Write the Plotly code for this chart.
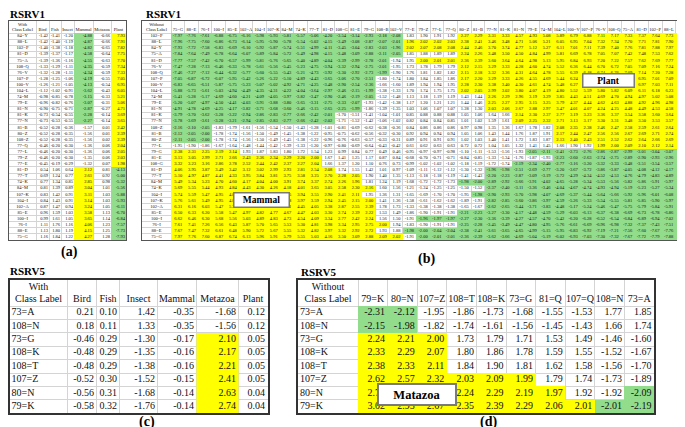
import numpy as np
import plotly.graph_objects as go

# ---------------- data ----------------
a_rows = ["84=Y", "88=L", "102=P", "81=D", "75=A", "108=Q", "76=V", "107=P", "100=V", "104=L",
          "74=M", "79=E", "81=N", "81=K", "77=N", "81=B", "80=Z", "108=Z", "77=Q", "77=L",
          "79=Z", "77=E", "81=D", "77=T", "74=K", "84=M", "107=K", "104=I", "102=A", "85=E",
          "100=I", "76=I", "88=E", "75=G"]
a_cols = ["Bird", "Fish", "Insect", "Mammal", "Metazoa", "Plant"]
a_bird = [-1.42, -1.42, -1.40, -1.39, -1.39, -1.33, -1.32, -1.28, -1.26, -1.12, -0.98, -0.96, -0.90,
          -0.73, -0.73, -0.52, -0.52, -0.52, -0.46, -0.46, -0.46, -0.45, 0.54, 0.69, 0.77, 0.81,
          0.83, 0.84, 0.87, 0.96, 0.99, 1.11, 1.13, 1.16]
a_fish = [-1.41, -1.40, -1.38, -1.37, -1.36, -1.29, -1.28, -1.25, -1.21, -1.02, -0.85, -0.82, -0.75,
          -0.54, -0.53, -0.28, -0.28, -0.28, -0.20, -0.20, -0.20, -0.19, 1.06, 1.24, 1.34, 1.39,
          1.42, 1.43, 1.47, 1.59, 1.61, 1.76, 1.80, 1.84]
a_insect = [-1.20, -1.19, -1.18, -1.17, -1.16, -1.11, -1.11, -1.06, -1.05, -0.91, -0.78, -0.76, -0.71,
            -0.55, -0.55, -0.36, -0.35, -0.35, -0.30, -0.30, -0.30, -0.29, 0.64, 0.77, 0.85, 0.89,
            0.91, 0.91, 0.94, 1.03, 1.05, 1.16, 1.19, 1.22]
a_mammal = [-4.88, -4.87, -4.82, -4.58, -4.55, -4.35, -4.34, -4.19, -4.13, -3.62, -3.15, -3.07, -2.87,
            -2.28, -2.27, -1.57, -1.56, -1.56, -1.36, -1.36, -1.35, -1.32, 2.12, 2.61, 2.85, 3.04,
            3.11, 3.14, 3.24, 3.58, 3.65, 4.06, 4.15, 4.27]
a_metazoa = [-0.66, -0.66, -0.65, -0.64, -0.63, -0.59, -0.59, -0.55, -0.54, -0.43, -0.33, -0.31, -0.27,
             -0.14, -0.14, 0.01, 0.01, 0.02, 0.06, 0.06, 0.06, 0.07, 0.81, 0.92, 0.98, 1.01,
             1.03, 1.03, 1.05, 1.13, 1.14, 1.23, 1.25, 1.28]
a_plant = [7.93, 7.91, 7.82, 7.75, 7.70, 7.34, 7.33, 7.05, 6.95, 6.05, 5.21, 5.06, 4.71,
           3.69, 3.65, 2.42, 2.39, 2.39, 2.04, 2.05, 2.03, 1.98, -4.13, -5.00, -5.32, -5.56,
           -5.88, -5.93, -6.11, -6.70, -6.84, -7.57, -7.73, -7.93]

b_rows = ["102=P", "88=L", "84=Y", "75=A", "81=D", "76=V", "108=Q", "107=P", "100=V", "104=L",
          "74=M", "79=E", "81=N", "81=K", "77=N", "108=Z", "81=B", "80=Z", "77=L", "79=G",
          "81=E", "108=G", "81=D", "77=T", "84=M", "74=K", "104=I", "107=K", "102=A", "85=E",
          "100=I", "76=I", "88=E", "75=G"]
b_cols = ["75=G", "88=E", "76=I", "100=I", "85=E", "102=A", "104=I", "107=K", "84=M", "74=K",
          "77=T", "81=D", "108=G", "81=E", "79=G", "108=B", "102=V", "77=E", "79=Z", "77=L",
          "77=Q", "80=Z", "81=B", "77=N", "81=K", "81=N", "79=E", "74=M", "104=L", "100=V",
          "107=P", "76=V", "108=Q", "75=A", "81=D", "102=P", "88=L", "84=Y"]
b_values = [
    [-7.97, -7.76, -7.61, -6.88, -6.75, -6.16, -5.98, -5.93, -5.81, -5.57, -5.06, -4.20, -3.54, -3.14, -2.93, -2.18, -2.08, 1.83,
     1.90, 1.91, 1.92, 2.27, 2.29, 3.31, 3.33, 4.57, 4.93, 5.08, 5.89, 6.79, 6.88, 7.11, 7.17, 7.33, 7.37, 7.64, 7.73, 7.75],
    [-7.96, -7.75, -7.60, -6.86, -6.73, -6.14, -5.95, -5.90, -5.78, -5.54, -5.02, -4.15, -3.49, -3.08, -2.87, -2.07, -2.01, 1.96,
     2.02, 2.02, 2.03, 2.38, 2.41, 3.46, 3.48, 4.71, 5.06, 5.21, 6.05, 6.95, 7.04, 7.32, 7.34, 7.70, 7.71, 7.81, 7.90, 7.92],
    [-7.93, -7.72, -7.58, -6.83, -6.69, -6.10, -5.92, -5.87, -5.74, -5.51, -4.99, -4.11, -3.45, -3.04, -2.83, -2.03, -1.96, 2.02,
     2.07, 2.08, 2.08, 2.44, 2.46, 3.70, 3.74, 4.77, 5.12, 5.27, 6.11, 7.01, 7.11, 7.39, 7.40, 7.76, 7.81, 7.88, 7.97, 7.99],
    [-7.84, -7.64, -7.49, -6.78, -6.64, -6.07, -5.89, -5.84, -5.72, -5.49, -4.98, -4.15, -3.48, -3.09, -2.88, -2.11, -2.05, 1.85,
     1.88, 1.89, 1.89, 2.24, 2.26, 3.48, 3.50, 4.50, 4.84, 4.99, 5.81, 6.69, 6.78, 7.05, 7.07, 7.42, 7.48, 7.53, 7.62, 7.64],
    [-7.77, -7.57, -7.42, -6.70, -6.57, -5.99, -5.81, -5.76, -5.65, -5.40, -4.89, -4.04, -3.39, -2.99, -2.78, -2.01, -1.94, 1.95,
     2.00, 2.01, 2.01, 2.36, 2.39, 3.60, 3.64, 4.64, 4.98, 5.13, 5.95, 6.84, 6.93, 7.20, 7.22, 7.57, 7.62, 7.69, 7.77, 7.79],
    [-7.47, -7.28, -7.13, -6.46, -6.33, -5.78, -5.61, -5.56, -5.45, -5.23, -4.75, -3.94, -3.32, -2.94, -2.75, -2.01, -1.95, 1.73,
     1.78, 1.79, 1.79, 2.12, 2.15, 3.29, 3.33, 4.28, 4.60, 4.74, 5.52, 6.36, 6.44, 6.70, 6.72, 7.05, 7.09, 7.16, 7.24, 7.26],
    [-7.46, -7.27, -7.12, -6.44, -6.32, -5.77, -5.60, -5.55, -5.43, -5.21, -4.73, -3.92, -3.30, -2.92, -2.73, -1.99, -1.90, 1.76,
     1.81, 1.82, 1.82, 2.15, 2.18, 3.32, 3.36, 4.31, 4.64, 4.78, 5.55, 6.39, 6.48, 6.74, 6.76, 7.09, 7.14, 7.20, 7.28, 7.30],
    [-7.05, -6.87, -6.72, -6.07, -5.95, -5.42, -5.26, -5.22, -5.10, -4.89, -4.43, -3.65, -3.06, -2.70, -2.51, -1.80, -1.74, 1.80,
     1.84, 1.85, 1.86, 2.17, 2.20, 3.29, 3.33, 4.26, 4.55, 4.69, 5.44, 6.24, 6.32, 6.57, 6.59, 6.91, 6.95, 7.01, 7.09, 7.11],
    [-6.83, -6.65, -6.51, -5.87, -5.75, -5.23, -5.07, -5.02, -4.92, -4.71, -4.25, -3.48, -2.90, -2.54, -2.36, -1.66, -1.60, 1.89,
     1.94, 1.94, 1.95, 2.28, 2.30, 3.38, 3.40, 4.30, 4.61, 4.74, 5.48, 6.27, 6.35, 6.60, 6.62, 6.93, 6.97, 7.03, 7.11, 7.13],
    [-5.88, -5.73, -5.61, -5.03, -4.94, -4.49, -4.35, -4.31, -4.22, -4.04, -3.64, -2.97, -2.46, -2.15, -1.99, -1.38, -1.33, 1.70,
     1.74, 1.75, 1.75, 2.02, 2.05, 2.99, 3.02, 3.80, 4.07, 4.19, 4.80, 5.52, 5.59, 5.80, 5.82, 6.09, 6.11, 6.18, 6.23, 6.26],
    [-5.41, -5.28, -5.17, -4.69, -4.60, -4.21, -4.09, -4.05, -3.97, -3.82, -3.47, -2.90, -2.46, -2.19, -2.05, -1.52, -1.48, 1.13,
     1.18, 1.19, 1.19, 1.43, 1.44, 2.26, 2.29, 2.96, 3.19, 3.29, 3.85, 4.43, 4.51, 4.69, 4.70, 4.94, 4.97, 5.02, 5.08, 5.09],
    [-5.20, -5.07, -4.97, -4.50, -4.41, -4.03, -3.91, -3.88, -3.80, -3.65, -3.31, -2.75, -2.33, -2.07, -1.93, -1.42, -1.38, 1.17,
     1.20, 1.21, 1.21, 1.44, 1.46, 2.25, 2.27, 2.95, 3.15, 3.25, 3.79, 4.37, 4.44, 4.62, 4.63, 4.88, 4.92, 4.96, 4.98, 5.00],
    [-4.91, -4.78, -4.69, -4.25, -4.17, -3.82, -3.71, -3.68, -3.60, -3.46, -3.15, -2.65, -2.25, -1.99, -1.86, -1.39, -1.35, 1.03,
     1.06, 1.07, 1.07, 1.28, 1.30, 2.03, 2.06, 2.67, 2.88, 2.97, 3.47, 4.01, 4.07, 4.24, 4.25, 4.48, 4.49, 4.53, 4.58, 4.60],
    [-3.79, -3.70, -3.62, -3.28, -3.22, -2.94, -2.86, -2.83, -2.77, -2.66, -2.42, -2.01, -1.70, -1.51, -1.41, -1.04, -1.01, 0.85,
     0.88, 0.88, 0.88, 1.05, 1.06, 1.64, 1.66, 2.14, 2.30, 2.37, 2.77, 3.19, 3.23, 3.36, 3.37, 3.54, 3.58, 3.60, 3.64, 3.65],
    [-3.78, -3.69, -3.61, -3.28, -3.21, -2.94, -2.85, -2.83, -2.77, -2.66, -2.42, -2.02, -1.71, -1.52, -1.42, -1.06, -1.02, 0.82,
     0.84, 0.84, 0.85, 1.01, 1.02, 1.59, 1.61, 2.09, 2.25, 2.32, 2.71, 3.13, 3.17, 3.30, 3.31, 3.48, 3.50, 3.53, 3.57, 3.58],
    [-2.16, -2.10, -2.05, -1.83, -1.79, -1.61, -1.56, -1.54, -1.50, -1.43, -1.28, -1.01, -0.81, -0.69, -0.62, -0.38, -0.36, 0.84,
     0.86, 0.86, 0.86, 0.97, 0.98, 1.35, 1.36, 1.67, 1.78, 1.82, 2.08, 2.35, 2.38, 2.46, 2.47, 2.58, 2.59, 2.61, 2.64, 2.64],
    [-2.12, -2.05, -2.00, -1.78, -1.74, -1.56, -1.50, -1.49, -1.45, -1.38, -1.22, -0.95, -0.75, -0.62, -0.56, -0.32, -0.30, 0.92,
     0.94, 0.94, 0.94, 1.05, 1.06, 1.43, 1.44, 1.76, 1.87, 1.91, 2.17, 2.44, 2.47, 2.56, 2.56, 2.67, 2.69, 2.71, 2.74, 2.74],
    [-2.11, -2.05, -2.00, -1.78, -1.74, -1.56, -1.50, -1.49, -1.45, -1.38, -1.22, -0.96, -0.76, -0.63, -0.57, -0.33, -0.31, 0.89,
     0.91, 0.91, 0.91, 1.02, 1.03, 1.40, 1.41, 1.72, 1.83, 1.87, 2.13, 2.40, 2.43, 2.51, 2.52, 2.62, 2.64, 2.66, 2.69, 2.69],
    [-1.95, -1.90, -1.86, -1.67, -1.64, -1.48, -1.44, -1.42, -1.39, -1.33, -1.20, -0.97, -0.80, -0.69, -0.64, -0.43, -0.42, 0.61,
     0.62, 0.63, 0.63, 0.72, 0.72, 1.04, 1.05, 1.32, 1.41, 1.45, 1.66, 1.90, 1.92, 1.99, 2.00, 2.09, 2.10, 2.12, 2.14, 2.15],
    [2.38, 2.31, 2.25, 2.19, 2.14, 1.93, 1.87, 1.83, 1.80, 1.72, 1.54, 1.23, 0.99, 0.84, 0.77, 0.49, 0.46, -0.95,
     -0.97, -0.97, -0.98, -1.10, -1.11, -1.53, -1.56, -1.93, -2.05, -2.11, -2.41, -2.73, -2.76, -2.86, -2.87, -2.99, -3.01, -3.04, -3.07, -3.07],
    [3.13, 3.05, 2.99, 2.71, 2.66, 2.43, 2.36, 2.34, 2.29, 2.20, 2.00, 1.67, 1.41, 1.25, 1.17, 0.87, 0.84, -0.68,
     -0.70, -0.71, -0.71, -0.84, -0.85, -1.33, -1.34, -1.76, -1.87, -1.93, -2.23, -2.60, -2.63, -2.74, -2.75, -2.89, -2.90, -2.93, -2.96, -2.97],
    [3.32, 3.23, 3.16, 2.86, 2.78, 2.52, 2.44, 2.42, 2.37, 2.27, 2.04, 1.66, 1.37, 1.20, 1.10, 0.76, 0.73, -0.99,
     -1.02, -1.02, -1.02, -1.18, -1.19, -1.72, -1.74, -2.19, -2.34, -2.40, -2.77, -3.16, -3.20, -3.32, -3.33, -3.48, -3.51, -3.54, -3.57, -3.58],
    [4.06, 3.95, 3.87, 3.49, 3.42, 3.12, 3.02, 2.99, 2.93, 2.81, 2.54, 2.08, 1.74, 1.55, 1.42, 1.01, 0.97, -1.09,
     -1.11, -1.12, -1.12, -1.30, -1.32, -1.96, -1.98, -2.51, -2.69, -2.77, -3.20, -3.67, -3.72, -3.86, -3.87, -4.05, -4.08, -4.12, -4.17, -4.18],
    [5.10, 4.97, 4.87, 4.41, 4.33, 3.95, 3.84, 3.81, 3.75, 3.58, 3.25, 2.70, 2.28, 2.05, 1.90, 1.40, 1.35, -1.13,
     -1.18, -1.18, -1.19, -1.41, -1.43, -2.20, -2.23, -2.87, -3.09, -3.19, -3.72, -4.29, -4.34, -4.52, -4.53, -4.76, -4.79, -4.83, -4.89, -4.90],
    [5.49, 5.34, 5.23, 4.70, 4.60, 4.17, 4.04, 4.00, 3.91, 3.74, 3.37, 2.74, 2.26, 1.96, 1.81, 1.24, 1.19, -1.68,
     -1.72, -1.72, -1.73, -1.98, -2.00, -2.89, -2.92, -3.66, -3.91, -4.02, -4.65, -5.28, -5.34, -5.53, -5.56, -5.82, -5.86, -5.91, -5.97, -5.99],
    [5.69, 5.55, 5.44, 4.93, 4.84, 4.43, 4.30, 4.26, 4.18, 4.01, 3.65, 3.05, 2.58, 2.30, 2.16, 1.60, 1.56, -1.21,
     -1.24, -1.25, -1.25, -1.50, -1.52, -2.37, -2.40, -3.11, -3.36, -3.46, -4.04, -4.67, -4.74, -4.93, -4.94, -5.19, -5.23, -5.27, -5.34, -5.35],
    [5.74, 5.59, 5.47, 4.95, 4.85, 4.42, 4.28, 4.24, 4.15, 3.94, 3.55, 2.90, 2.41, 2.11, 1.95, 1.36, 1.31, -1.65,
     -1.69, -1.70, -1.70, -1.95, -1.98, -2.90, -2.93, -3.70, -3.98, -4.07, -4.69, -5.37, -5.44, -5.64, -5.66, -5.92, -5.96, -6.01, -6.08, -6.09],
    [5.76, 5.61, 5.49, 4.95, 4.87, 4.44, 4.31, 4.27, 4.18, 3.97, 3.59, 2.94, 2.45, 2.15, 2.00, 1.41, 1.36, -1.58,
     -1.61, -1.62, -1.62, -1.89, -1.91, -2.82, -2.85, -3.60, -3.86, -3.97, -4.59, -5.26, -5.33, -5.54, -5.55, -5.81, -5.85, -5.90, -5.97, -5.98],
    [6.31, 6.16, 6.03, 5.47, 5.36, 4.88, 4.74, 4.70, 4.61, 4.45, 4.05, 3.38, 2.87, 2.55, 2.39, 1.78, 1.73, -1.33,
     -1.38, -1.38, -1.38, -1.65, -1.67, -2.62, -2.65, -3.44, -3.71, -3.83, -4.48, -5.17, -5.24, -5.46, -5.47, -5.75, -5.79, -5.84, -5.91, -5.92],
    [6.50, 6.33, 6.20, 5.58, 5.47, 4.97, 4.82, 4.77, 4.67, 4.47, 4.03, 3.30, 2.74, 2.39, 2.22, 1.53, 1.49, -1.86,
     -1.90, -1.91, -1.91, -2.21, -2.23, -3.27, -3.30, -4.17, -4.48, -4.59, -5.29, -6.03, -6.13, -6.37, -6.38, -6.69, -6.73, -6.78, -6.86, -6.88],
    [6.62, 6.46, 6.30, 5.68, 5.56, 5.03, 4.89, 4.83, 4.73, 4.54, 4.09, 3.34, 2.77, 2.42, 2.24, 1.56, 1.50, -1.91,
     -1.96, -1.97, -1.97, -2.27, -2.30, -3.36, -3.39, -4.27, -4.57, -4.70, -5.42, -6.20, -6.28, -6.52, -6.54, -6.84, -6.89, -6.94, -7.02, -7.04],
    [7.61, 7.41, 7.26, 6.56, 6.43, 5.87, 5.70, 5.65, 5.53, 5.30, 4.81, 3.98, 3.34, 2.95, 2.75, 2.00, 1.94, -1.83,
     -1.90, -1.91, -1.91, -2.25, -2.28, -3.45, -3.49, -4.47, -4.80, -4.95, -5.76, -6.61, -6.69, -6.96, -6.98, -7.32, -7.37, -7.43, -7.51, -7.53],
    [7.67, 7.47, 7.32, 6.61, 6.48, 5.90, 5.72, 5.67, 5.55, 5.32, 4.82, 3.97, 3.32, 2.92, 2.72, 1.93, 1.88, -1.98,
     -2.00, -2.04, -2.04, -2.38, -2.41, -3.61, -3.65, -4.65, -4.99, -5.15, -5.95, -6.83, -6.92, -7.19, -7.21, -7.56, -7.60, -7.67, -7.76, -7.77],
    [7.97, 7.76, 7.60, 6.87, 6.74, 6.13, 5.96, 5.91, 5.79, 5.55, 5.03, 4.16, 3.50, 3.09, 2.88, 2.09, 2.02, -1.91,
     -2.00, -2.01, -2.01, -2.36, -2.39, -3.62, -3.66, -4.69, -5.04, -5.19, -6.02, -6.93, -7.03, -7.30, -7.32, -7.67, -7.72, -7.79, -7.88, -7.90],
]

c_rows = ["73=A", "108=N", "73=G", "108=K", "108=T", "107=Z", "80=N", "79=K"]
c_cols = ["Bird", "Fish", "Insect", "Mammal", "Metazoa", "Plant"]
c_bird = [0.21, 0.18, -0.46, -0.48, -0.48, -0.52, -0.56, -0.58]
c_fish = [0.10, 0.11, 0.29, 0.29, 0.29, 0.30, 0.31, 0.32]
c_insect = [1.42, 1.33, -1.30, -1.35, -1.38, -1.52, -1.68, -1.76]
c_mammal = [-0.35, -0.35, -0.17, -0.16, -0.16, -0.15, -0.14, -0.14]
c_metazoa = [-1.68, -1.56, 2.10, 2.17, 2.21, 2.41, 2.63, 2.74]
c_plant = [0.12, 0.12, 0.05, 0.05, 0.05, 0.05, 0.04, 0.04]

d_rows = ["73=A", "108=N", "73=G", "108=K", "108=T", "107=Z", "80=N", "79=K"]
d_cols = ["79=K", "80=N", "107=Z", "108=T", "108=K", "73=G", "81=Q", "107=Q", "108=N", "73=A"]
d_values = [
    [-2.31, -2.12, -1.95, -1.86, -1.73, -1.68, -1.55, -1.53, 1.77, 1.85],
    [-2.15, -1.98, -1.82, -1.74, -1.61, -1.56, -1.45, -1.43, 1.66, 1.74],
    [2.24, 2.21, 2.00, 1.73, 1.79, 1.71, 1.53, 1.49, -1.46, -1.60],
    [2.33, 2.29, 2.07, 1.80, 1.86, 1.78, 1.59, 1.55, -1.52, -1.67],
    [2.38, 2.33, 2.11, 1.84, 1.90, 1.81, 1.62, 1.58, -1.56, -1.70],
    [2.62, 2.57, 2.32, 2.03, 2.09, 1.99, 1.79, 1.74, -1.73, -1.89],
    [2.77, 2.71, 2.45, 2.24, 2.29, 2.19, 1.97, 1.92, -1.92, -2.09],
    [3.02, 2.95, 2.67, 2.35, 2.39, 2.29, 2.06, 2.01, -2.01, -2.19],
]

THRESH = 1.96

# ---------------- styling / layout ----------------
W, H = 685, 427
FONT = "Liberation Serif, Times New Roman, serif"
YELLOW = "#ffff00"
GREEN = "#92dd8c"
GRID = "#d4d4d4"

fig = go.Figure()


def add_table(n, left, top, col_w, header_h, row_h, head1, col_labels, row_labels, values,
              fsize, row_center, lpad, rpad, line_color, line_w):
    vals = np.asarray(values, dtype=float)
    nrows, ncols = vals.shape
    xe = np.concatenate([[0.0], np.cumsum(col_w)])
    ye = np.concatenate([[0.0, header_h], header_h + row_h * np.arange(1, nrows + 1)])
    tw, th = float(xe[-1]), float(ye[-1])
    sfx = "" if n == 1 else str(n)
    ax = dict(showgrid=True, gridcolor=GRID, gridwidth=1, zeroline=False, showticklabels=False,
              ticks="", tickmode="array", showline=True, mirror=True, linecolor=line_color,
              linewidth=line_w, fixedrange=True)
    fig.update_layout({
        "xaxis" + sfx: dict(ax, domain=[left / W, (left + tw) / W], range=[0, tw],
                            tickvals=list(xe), anchor="y" + sfx),
        "yaxis" + sfx: dict(ax, domain=[1 - (top + th) / H, 1 - top / H], range=[th, 0],
                            tickvals=list(ye), anchor="x" + sfx),
    })
    xr, yr = "x" + sfx, "y" + sfx
    codes = np.where(vals >= THRESH - 1e-9, 1, np.where(vals <= -THRESH + 1e-9, 2, 0))
    fig.add_trace(go.Heatmap(
        x=xe[1:], y=ye[1:], z=codes, zmin=0, zmax=2, showscale=False, hoverinfo="skip",
        colorscale=[[0, "rgba(255,255,255,0)"], [0.33, "rgba(255,255,255,0)"],
                    [0.33, YELLOW], [0.67, YELLOW], [0.67, GREEN], [1, GREEN]],
        xaxis=xr, yaxis=yr))
    tf = dict(family=FONT, size=fsize, color="#111111")
    ccent = (xe[:-1] + xe[1:]) / 2
    rcent = (ye[1:-1] + ye[2:]) / 2
    # header
    fig.add_trace(go.Scatter(x=[ccent[0]], y=[header_h * 0.28], text=[head1], mode="text",
                             textposition="middle center", textfont=tf, hoverinfo="skip",
                             cliponaxis=False, xaxis=xr, yaxis=yr))
    fig.add_trace(go.Scatter(x=list(ccent), y=[header_h * 0.74] * len(ccent),
                             text=["Class Label"] + list(col_labels), mode="text",
                             textposition="middle center", textfont=tf, hoverinfo="skip",
                             cliponaxis=False, xaxis=xr, yaxis=yr))
    # row labels
    if row_center:
        fig.add_trace(go.Scatter(x=[ccent[0]] * nrows, y=list(rcent), text=list(row_labels),
                                 mode="text", textposition="middle center", textfont=tf,
                                 hoverinfo="skip", cliponaxis=False, xaxis=xr, yaxis=yr))
    else:
        fig.add_trace(go.Scatter(x=[xe[0] + lpad] * nrows, y=list(rcent), text=list(row_labels),
                                 mode="text", textposition="middle right", textfont=tf,
                                 hoverinfo="skip", cliponaxis=False, xaxis=xr, yaxis=yr))
    # values
    xs, ys, ts = [], [], []
    for i in range(nrows):
        for j in range(ncols):
            xs.append(xe[j + 2] - rpad)
            ys.append(rcent[i])
            ts.append(f"{vals[i, j]:.2f}")
    fig.add_trace(go.Scatter(x=xs, y=ys, text=ts, mode="text", textposition="middle left",
                             textfont=tf, hoverinfo="skip", cliponaxis=False,
                             xaxis=xr, yaxis=yr))


a_values = np.column_stack([a_bird, a_fish, a_insect, a_mammal, a_metazoa, a_plant])
c_values = np.column_stack([c_bird, c_fish, c_insect, c_mammal, c_metazoa, c_plant])

add_table(1, 1, 13.3, [27, 13, 12, 13, 19, 18, 15], 11.7, 6.09, "With", a_cols, a_rows,
          a_values, 4.5, True, 1, 1, "#555555", 1)
add_table(2, 134, 13.3, [29] + [13.64] * len(b_cols), 11.7, 6.09, "Without", b_cols, b_rows,
          b_values, 4.5, True, 1, 2.4, "#555555", 1)
add_table(3, 1.5, 271.7, [58, 29, 23, 38, 39, 42, 29], 26.3, 13.4, "With", c_cols, c_rows,
          c_values, 10, False, 2, 2.5, "#333333", 2)
add_table(4, 290, 271.7, [60] + [29.6] * len(d_cols), 26.3, 13.4, "Without", d_cols, d_rows,
          d_values, 10, False, 2, 2.5, "#333333", 2)


def px_ann(text, x, y, size, xanchor="left", **kw):
    return dict(text=text, x=x / W, y=1 - y / H, xref="paper", yref="paper", showarrow=False,
                xanchor=xanchor, yanchor="middle", font=dict(family=FONT, size=size, color="#000"),
                **kw)


anns = [
    px_ann("<b>RSRV1</b>", 0, 5.5, 11),
    px_ann("<b>RSRV1</b>", 136, 5.5, 11),
    px_ann("<b>RSRV5</b>", 0, 263, 11),
    px_ann("<b>RSRV5</b>", 291, 264, 11),
    px_ann("<b>(a)</b>", 61, 244, 14, "center"),
    px_ann("<b>(b)</b>", 418, 251, 14, "center"),
    px_ann("<b>(c)</b>", 139, 414, 14, "center"),
    px_ann("<b>(d)</b>", 480, 414, 14, "center"),
    px_ann("<b>Mammal</b>", 253, 192.5, 9.5, "center", bgcolor="white", bordercolor="#7a7a7a",
           borderwidth=1.5, borderpad=1, width=52, height=11),
    px_ann("<b>Plant</b>", 600, 73, 9.5, "center", bgcolor="white", bordercolor="#7a7a7a",
           borderwidth=1.5, borderpad=1, width=48, height=10),
    px_ann("<b>Matazoa</b>", 409, 386.5, 12.5, "center", bgcolor="white", bordercolor="#7a7a7a",
           borderwidth=2, borderpad=1, width=74, height=17),
]

fig.update_layout(width=W, height=H, autosize=False, margin=dict(l=0, r=0, t=0, b=0, pad=0),
                  paper_bgcolor="white", plot_bgcolor="white", showlegend=False,
                  annotations=anns)

fig.write_html("out.html")
